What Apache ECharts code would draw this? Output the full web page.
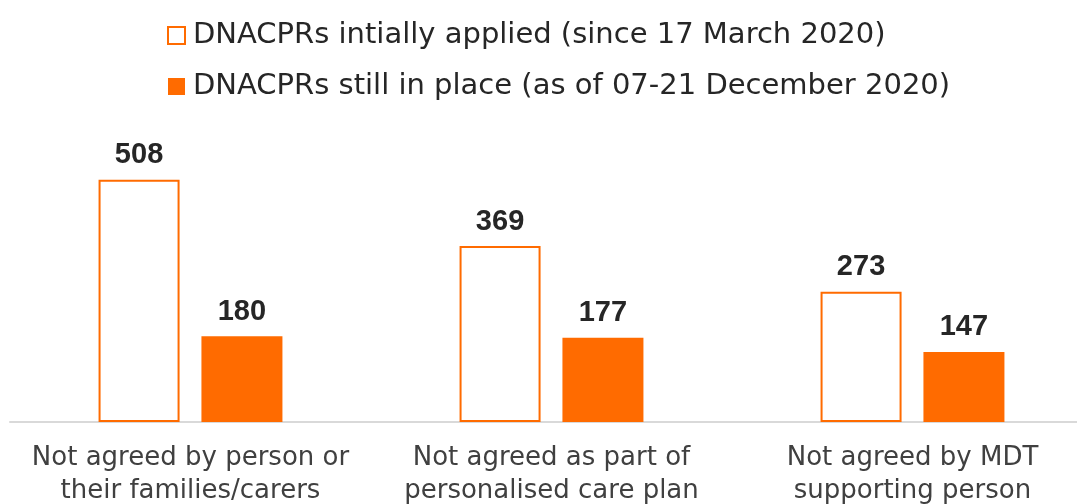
<!doctype html>
<html lang="en">
  <head>
    <meta charset="UTF-8" />
    <title>DNACPRs chart</title>
    <script src="https://cdn.jsdelivr.net/npm/echarts/dist/echarts.min.js"></script>
    <style>
      html, body { margin: 0; padding: 0; background: #fff; }
      #main { width: 1077px; height: 504px; }
    </style>
  </head>
  <body>
    <div id="main"></div>
    <script>
      // categories and values
      const categories = [
        "Not agreed by person or\ntheir families/carers",
        "Not agreed as part of\npersonalised care plan",
        "Not agreed by MDT\nsupporting person"
      ];
      const seriesNames = [
        "DNACPRs intially applied (since 17 March 2020)",
        "DNACPRs still in place (as of 07-21 December 2020)"
      ];
      const applied = [508, 369, 273];
      const stillInPlace = [180, 177, 147];

      const orange = "#ff6b00";
      const textFont = "DejaVu Sans, sans-serif";
      const numFont = "Liberation Sans, Arial, sans-serif";

      const chart = echarts.init(document.getElementById("main"));

      chart.setOption({
        animation: false,
        legend: {
          orient: "vertical",
          left: 162,
          top: 16,
          icon: "rect",
          itemWidth: 17,
          itemHeight: 17,
          itemGap: 22,
          textStyle: { fontSize: 29, color: "#262626", fontFamily: textFont, padding: [0, 0, 0, 3] },
          data: seriesNames
        },
        grid: { left: 10, width: 1083, top: 136, bottom: 82, outerBoundsMode: "none" },
        xAxis: {
          type: "category",
          data: categories,
          axisLine: { lineStyle: { color: "#d9d9d9", width: 2 } },
          axisTick: { show: false },
          axisLabel: {
            fontSize: 26,
            color: "#404040",
            fontFamily: textFont,
            lineHeight: 33,
            margin: 20,
            interval: 0
          }
        },
        yAxis: {
          type: "value",
          min: 0,
          max: 600,
          show: false,
          splitLine: { show: false }
        },
        series: [
          {
            name: seriesNames[0],
            type: "bar",
            data: applied,
            barWidth: 81,
            barGap: "27%",
            itemStyle: { color: "#ffffff", borderColor: orange, borderWidth: 2 },
            label: {
              show: true,
              position: "top",
              distance: 10,
              fontSize: 29,
              fontWeight: "bold",
              color: "#262626",
              fontFamily: numFont
            }
          },
          {
            name: seriesNames[1],
            type: "bar",
            data: stillInPlace,
            barWidth: 81,
            itemStyle: { color: orange },
            label: {
              show: true,
              position: "top",
              distance: 10,
              fontSize: 29,
              fontWeight: "bold",
              color: "#262626",
              fontFamily: numFont
            }
          }
        ]
      });
    </script>
  </body>
</html>
